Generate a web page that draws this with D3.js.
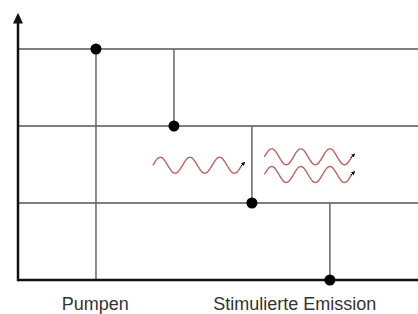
<!DOCTYPE html>
<html>
<head>
<meta charset="utf-8">
<script src="https://cdn.jsdelivr.net/npm/d3@7.9.0/dist/d3.min.js"></script>
<style>
  html, body { margin: 0; padding: 0; background: #fff; }
  svg { display: block; }
  text { font-family: "Liberation Sans", Arial, sans-serif; font-size: 18px; fill: #333; }
</style>
</head>
<body>
<svg id="chart" width="418" height="314"></svg>
<script>
// energy levels (0 = ground)
const levels = [0, 1, 2, 3];
// transitions: column, from level, to level (dot sits at "to")
const transitions = [
  { col: 1, from: 0, to: 3 },
  { col: 2, from: 3, to: 2 },
  { col: 3, from: 2, to: 1 },
  { col: 4, from: 1, to: 0 }
];
// photons: start col, end col, level, periods
const photons = [
  { x0: 1.73, x1: 2.87, y: 1.49, periods: 3 },
  { x0: 3.16, x1: 4.28, y: 1.60, periods: 3 },
  { x0: 3.16, x1: 4.28, y: 1.37, periods: 3 }
];
const labels = [
  { text: 'Pumpen', col: 0.99 },
  { text: 'Stimulierte Emission', col: 3.55 }
];

const svg = d3.select('#chart');
const x = d3.scaleLinear().domain([0, 5.13]).range([18, 418]);
const y = d3.scaleLinear().domain([0, 3]).range([280, 49]);

svg.append('defs').append('marker')
  .attr('id', 'tip')
  .attr('viewBox', '0 0 10 10')
  .attr('refX', 5).attr('refY', 5)
  .attr('markerWidth', 4).attr('markerHeight', 4)
  .attr('orient', 'auto')
  .append('path').attr('d', 'M0,0L10,5L0,10z').attr('fill', '#000');

// level lines
svg.selectAll('line.level')
  .data(levels.filter((d) => d > 0))
  .join('line')
  .attr('class', 'level')
  .attr('x1', x(0)).attr('x2', x.range()[1])
  .attr('y1', (d) => y(d)).attr('y2', (d) => y(d))
  .attr('stroke', '#555').attr('stroke-width', 1.5);

// transitions
svg.selectAll('line.trans')
  .data(transitions)
  .join('line')
  .attr('class', 'trans')
  .attr('x1', (d) => x(d.col)).attr('x2', (d) => x(d.col))
  .attr('y1', (d) => y(d.from)).attr('y2', (d) => y(d.to))
  .attr('stroke', '#666').attr('stroke-width', 1.5);

// ground line and axis
svg.append('line')
  .attr('x1', x(0)).attr('x2', x.range()[1])
  .attr('y1', y(0)).attr('y2', y(0))
  .attr('stroke', '#111').attr('stroke-width', 2.5);
svg.append('line')
  .attr('x1', x(0)).attr('x2', x(0))
  .attr('y1', y(0) + 1.2).attr('y2', y(3.4))
  .attr('stroke', '#111').attr('stroke-width', 2.5);
svg.append('path')
  .attr('d', `M${x(0) - 5},${y(3.33)}L${x(0)},${y(3.47)}L${x(0) + 5},${y(3.33)}Z`)
  .attr('fill', '#111');

svg.selectAll('circle.dot')
  .data(transitions)
  .join('circle')
  .attr('cx', (d) => x(d.col)).attr('cy', (d) => y(d.to))
  .attr('r', 5.5).attr('fill', '#000');

// photons
const amp = 8;
const line = d3.line().curve(d3.curveBasis);
photons.forEach((p) => {
  const px0 = x(p.x0), px1 = x(p.x1), py = y(p.y);
  const n = 120;
  const pts = d3.range(n + 1).map((i) => {
    const t = i / n;
    return [px0 + t * (px1 - px0), py - amp * Math.sin(t * p.periods * 2 * Math.PI)];
  });
  svg.append('path')
    .attr('d', line(pts))
    .attr('fill', 'none')
    .attr('stroke', '#c46060').attr('stroke-width', 1.4);
  svg.append('path')
    .attr('d', `M${px1 - 1},${py + 1}L${px1 + 2},${py - 2}`)
    .attr('stroke', '#000').attr('stroke-width', 1)
    .attr('marker-end', 'url(#tip)');
});

svg.selectAll('text.lbl')
  .data(labels)
  .join('text')
  .attr('class', 'lbl')
  .attr('x', (d) => x(d.col)).attr('y', 310)
  .attr('text-anchor', 'middle')
  .text((d) => d.text);
</script>
</body>
</html>
